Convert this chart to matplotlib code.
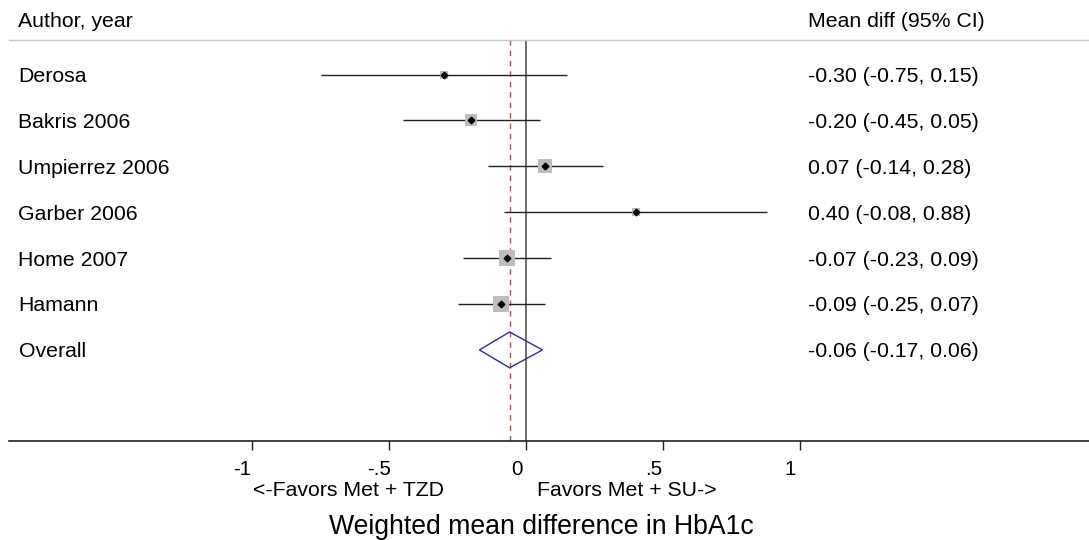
import numpy as np
import matplotlib.pyplot as plt
from matplotlib.patches import Polygon
from matplotlib.transforms import ScaledTranslation, blended_transform_factory

plt.rcParams['font.family'] = ['Liberation Sans', 'DejaVu Sans']

# === DATA ===
studies = ["Derosa", "Bakris 2006", "Umpierrez 2006", "Garber 2006", "Home 2007", "Hamann"]
mean_diff = [-0.30, -0.20, 0.07, 0.40, -0.07, -0.09]
ci_low = [-0.75, -0.45, -0.14, -0.08, -0.23, -0.25]
ci_high = [0.15, 0.05, 0.28, 0.88, 0.09, 0.07]
weights = [6.5, 14.7, 20.0, 6.5, 26.1, 26.1]   # % (box area)

overall_label = "Overall"
overall = (-0.06, -0.17, 0.06)

xticks = [-1, -0.5, 0, 0.5, 1]
xtick_labels = ["-1", "-.5", "0", ".5", "1"]
favors_left = "<-Favors Met + TZD"
favors_right = "Favors Met + SU->"
xlabel = "Weighted mean difference in HbA1c"

# === FIGURE ===
W, H = 1089, 540
fig = plt.figure(figsize=(W / 100, H / 100), dpi=100)
ax = fig.add_axes([9 / W, 1 - 441 / H, 1080 / W, 401 / H])
ax.set_xlim(-1.8869, 2.0547)
ax.set_ylim(7.985, -0.752)

# reference lines
ax.axvline(0, color='#555555', lw=1.2, zorder=1)
ax.axvline(overall[0], color='#c0505a', lw=1.0, ls=(0, (4, 3.5)), zorder=1)

rows = np.arange(len(studies))
ax.hlines(rows, ci_low, ci_high, color='#222222', lw=1.0, zorder=2)
side_px = 16 * np.sqrt(np.array(weights) / max(weights))
ax.scatter(mean_diff, rows, s=(side_px * 0.72) ** 2, marker='s', color='#bdbdbd',
           edgecolors='none', zorder=3)
ax.plot(mean_diff, rows, 'D', color='black', ms=3.4, zorder=4)

# overall diamond
oy = len(studies)
est, lo, hi = overall
ax.add_patch(Polygon([(lo, oy), (est, oy - 0.39), (hi, oy), (est, oy + 0.39)],
                     closed=True, fill=False, edgecolor='#2b2f8c', lw=1.0, zorder=3))

# text columns
txt = blended_transform_factory(fig.transFigure, ax.transData)
ax.text(18.5 / W, -1.041, "Author, year", transform=txt, fontsize=15.3, va='baseline')
ax.text(808.5 / W, -1.041, "Mean diff (95% CI)", transform=txt, fontsize=15.3, va='baseline')
labels = studies + [overall_label]
vals = list(zip(mean_diff, ci_low, ci_high)) + [overall]
for i, (name, (m, l, h)) in enumerate(zip(labels, vals)):
    ax.text(18.5 / W, i + 0.163, name, transform=txt, fontsize=15.3, va='baseline')
    ax.text(808.5 / W, i + 0.163, f"{m:.2f} ({l:.2f}, {h:.2f})", transform=txt,
            fontsize=15.3, va='baseline')

# axes styling
for s in ['left', 'right']:
    ax.spines[s].set_visible(False)
ax.spines['top'].set_color('#c8c8c8')
ax.spines['top'].set_linewidth(1.0)
ax.spines['bottom'].set_color('#222222')
ax.spines['bottom'].set_linewidth(1.2)
ax.set_yticks([])
ax.set_xticks(xticks, xtick_labels)
ax.tick_params(axis='x', direction='out', length=6.5, width=1.0, color='#222222',
               pad=7.5, labelsize=14.8)
shift = ScaledTranslation(-9.5 / 100, 0, fig.dpi_scale_trans)
for t in ax.xaxis.get_major_ticks():
    t.label1.set_transform(t.label1.get_transform() + shift)

bot = blended_transform_factory(ax.transData, fig.transFigure)
ax.text(-0.6496, 1 - 495.7 / H, favors_left, transform=bot, fontsize=15.3,
        ha='center', va='baseline')
ax.text(0.3686, 1 - 495.7 / H, favors_right, transform=bot, fontsize=15.3,
        ha='center', va='baseline')
fig.text(541 / W, 1 - 534 / H, xlabel, fontsize=19.2, ha='center', va='baseline')

fig.savefig("out.png", dpi=100)
